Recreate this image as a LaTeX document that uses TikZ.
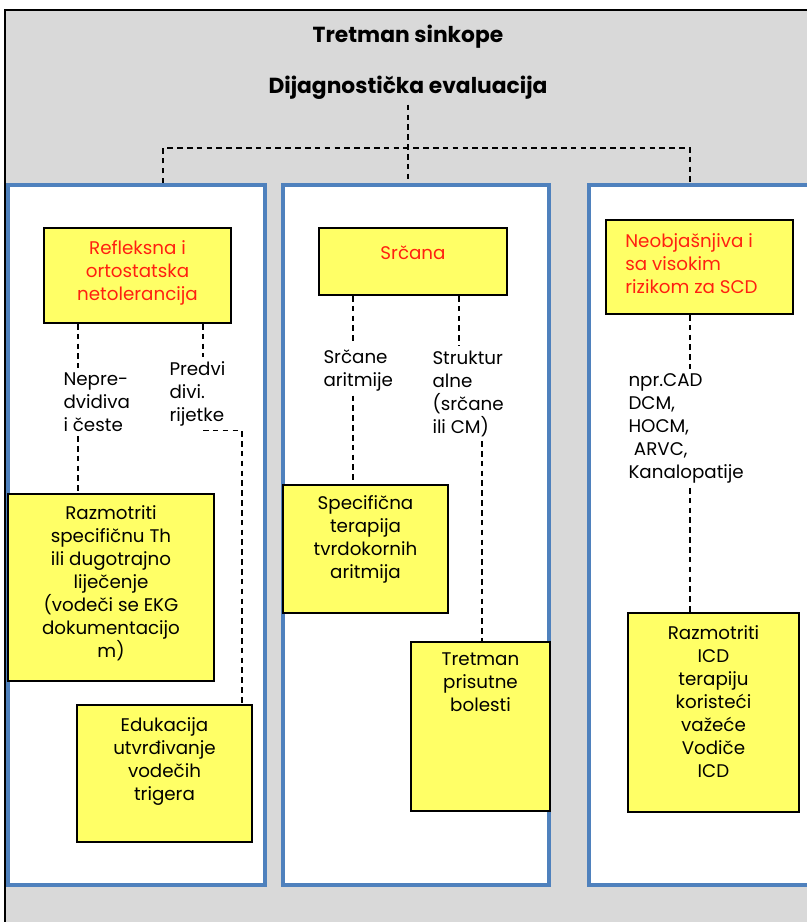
\documentclass[tikz,border=0pt]{standalone}
\usepackage{fontspec}
\setmainfont{Poppins}
\usepackage{tikz}
\usetikzlibrary{calc,fit}
\definecolor{bggray}{HTML}{D9D9D9}
\definecolor{panelblue}{HTML}{4F81BD}
\definecolor{boxyellow}{HTML}{FFFF66}
\definecolor{headred}{HTML}{FF2010}
\newcommand{\fs}{\fontsize{13}{16.4}\selectfont}

\begin{document}
\begin{tikzpicture}[x=0.025cm,y=-0.025cm,
  panel/.style={draw=panelblue, line width=2.6pt, fill=white, inner sep=0pt},
  ybox/.style={draw=black, line width=1.3pt, fill=boxyellow, inner sep=0pt},
  btext/.style={font=\fs, align=center, anchor=north, inner sep=0pt},
  ltext/.style={font=\fs, align=left, anchor=north west, inner sep=3pt},
  conn/.style={line width=1pt, dash pattern=on 4pt off 3pt}]
\useasboundingbox (0,0) rectangle (807,922);
\clip (0,0) rectangle (807,922);
\fill[bggray] (5,10) rectangle (830,940);
\draw[line width=1.5pt] (5,940) -- (5,10) -- (830,10);

\path (408,37) node[font=\fontsize{15.5}{18}\selectfont\bfseries] (t1) {Tretman sinkope};
\path (408,88) node[font=\fontsize{15.5}{18}\selectfont\bfseries] (t2) {Dijagnostička evaluacija};

\node[panel, fit={(8,185) (265,885)}] (p1) {};
\node[panel, fit={(283,185) (549,885)}] (p2) {};
\node[panel, fit={(589,185) (850,885)}] (p3) {};

% yellow boxes
\node[ybox, fit={(44,228) (231,323)}] (a1) {};
\node[ybox, fit={(8,494) (214,681)}] (b1) {};
\node[ybox, fit={(77,705) (252,842)}] (b2) {};
\node[ybox, fit={(319,228) (507,295)}] (a2) {};
\node[ybox, fit={(283,485) (448,613)}] (b3) {};
\node[ybox, fit={(411,642) (550,811)}] (b4) {};
\node[ybox, fit={(606,220) (793,314)}] (a3) {};
\node[ybox, fit={(628,613) (799,812)}] (b5) {};

\path (a1.north) ++(0,13) node[btext, text=headred] (a1t) {Refleksna i\\ortostatska\\netolerancija};
\path (b1.north) ++(0,12) node[btext] (b1t) {Razmotriti\\specifičnu Th\\ili dugotrajno\\liječenje\\(vodeči se EKG\\dokumentacijo\\m)};
\path (b2.north) ++(0,13) node[btext] (b2t) {Edukacija\\utvrđivanje\\vodečih\\trigera};
\path (a2.north) ++(0,18) node[btext, text=headred] (a2t) {Srčana};
\path (b3.north) ++(0,11) node[btext] (b3t) {Specifična\\terapija\\tvrdokornih\\aritmija};
\path (b4.north) ++(0,11) node[btext] (b4t) {Tretman\\prisutne\\bolesti};
\path (a3.north west) ++(20,14) node[btext, anchor=north west, align=left, text=headred] (a3t) {Neobjašnjiva i\\sa visokim\\rizikom za SCD};
\path (b5.north) ++(0,13) node[btext] (b5t) {Razmotriti\\ICD\\terapiju\\koristeći\\važeće\\Vodiče\\ICD};

\path (59,368) node[ltext] (l1) {Nepre-\\dvidiva\\i česte};
\path (165,357) node[ltext] (l2) {Predvi\\divi.\\rijetke};
\path (319,345) node[ltext] (l3) {Srčane\\aritmije};
\path (428,346) node[ltext] (l4) {Struktur\\alne\\(srčane\\ili CM)};
\path (624,369) node[ltext] (l5) {npr.CAD\\DCM,\\HOCM,\\\hspace{0.3em}ARVC,\\Kanalopatije};

\coordinate (hub) at (408,148);
\coordinate (k0) at (163,0);
\coordinate (k1) at (78,0);
\coordinate (k2) at (203,0);
\coordinate (k3) at (242,0);
\coordinate (k4) at (353,0);
\coordinate (k5) at (459,0);
\coordinate (k6) at (482,0);
\coordinate (k7) at (690,0);

\draw[conn] (t2.south) -- (p2.north -| hub);
\draw[conn] (p1.north -| k0) |- (hub) -| (p3.north -| k7);
\draw[conn] (a1.south -| k1) -- (l1.north -| k1);
\draw[conn] (l1.south -| k1) -- (b1.north -| k1);
\draw[conn] (a1.south -| k2) -- (l2.north -| k2);
\draw[conn] (l2.south -| k2) -| (b2.north -| k3);
\draw[conn] (a2.south -| k4) -- (l3.north -| k4);
\draw[conn] (l3.south -| k4) -- (b3.north -| k4);
\draw[conn] (a2.south -| k5) -- (l4.north -| k5);
\draw[conn] (l4.south -| k6) -- (b4.north -| k6);
\draw[conn] (a3.south -| k7) -- (l5.north -| k7);
\draw[conn] (l5.south -| k7) -- (b5.north -| k7);
\end{tikzpicture}
\end{document}
